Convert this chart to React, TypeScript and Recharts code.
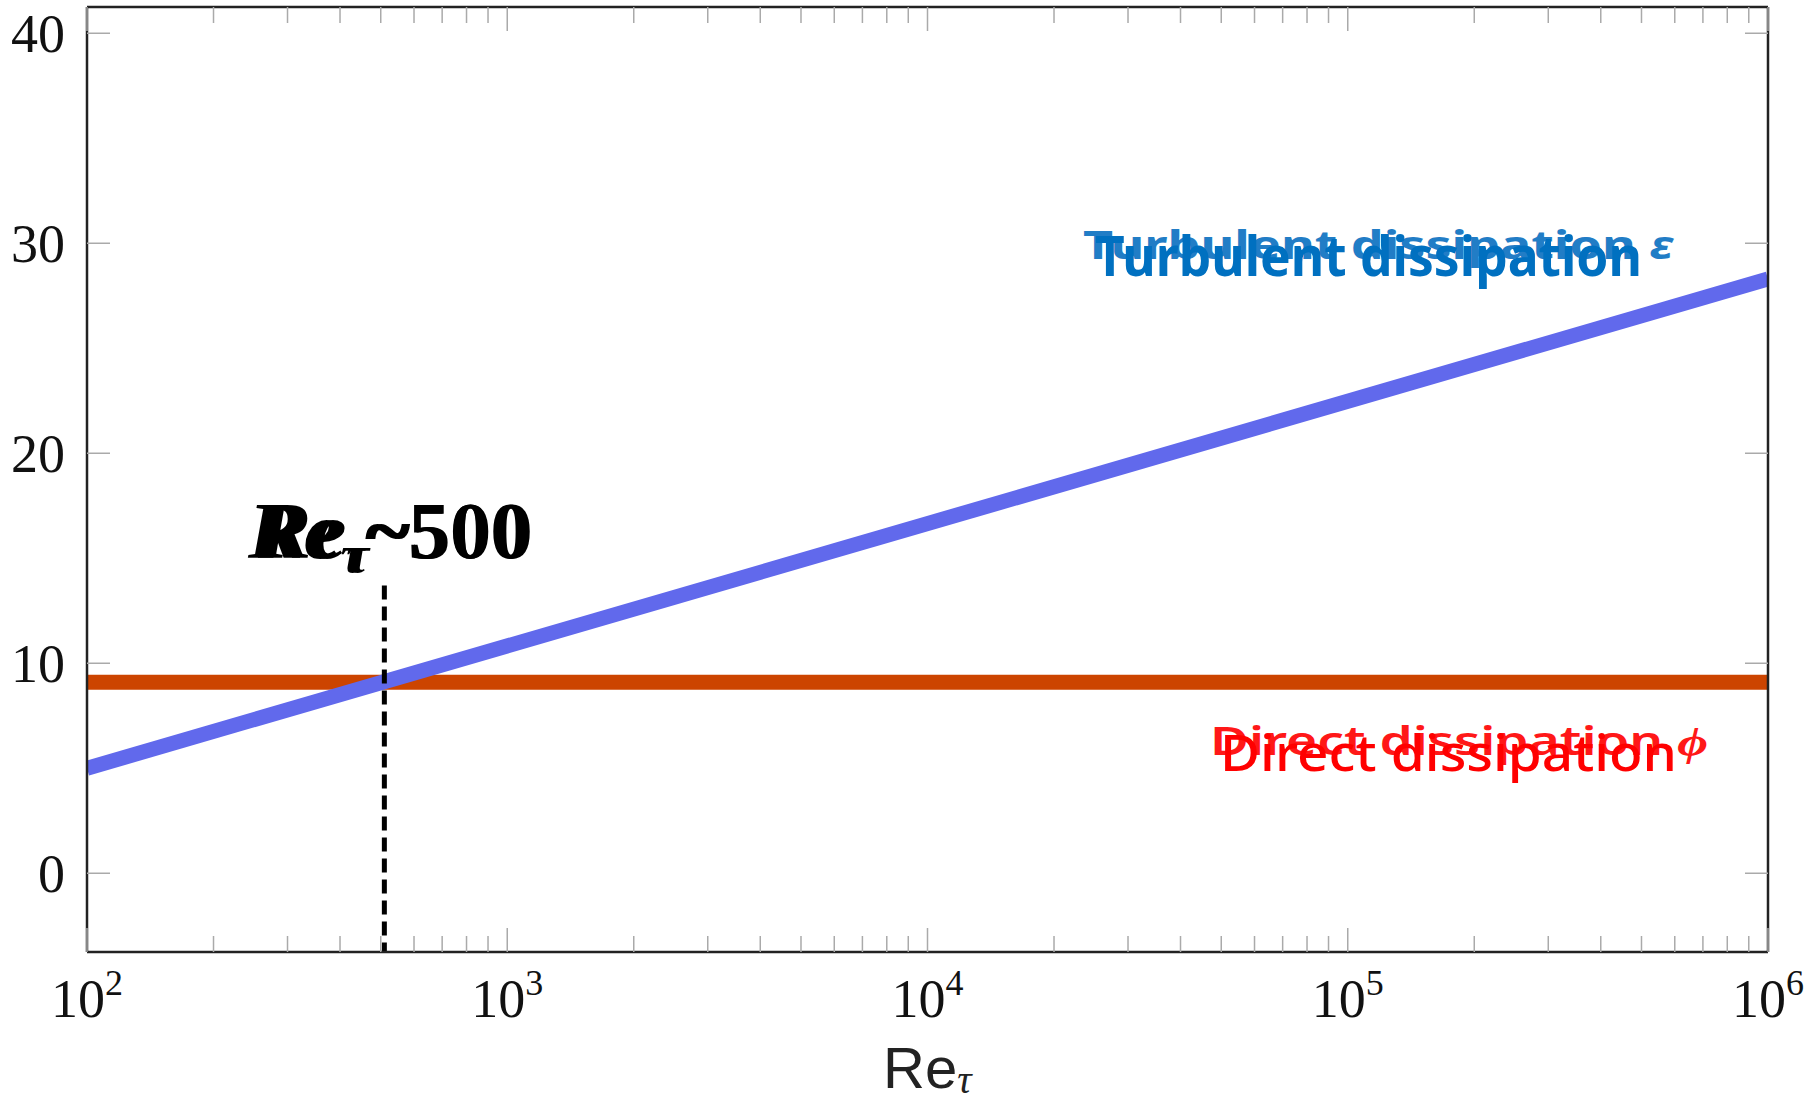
import { LineChart, Line, XAxis, YAxis } from 'recharts';

// values
const turbulent = [
  { re: 100, value: 5.0 },
  { re: 1000000, value: 28.3 },
];
const direct = [
  { re: 100, value: 9.1 },
  { re: 1000000, value: 9.1 },
];
const crossover = [
  { re: 510, value: 13.7 },
  { re: 510, value: -3.75 },
];

const decades = [100, 1000, 10000, 100000, 1000000];
const decadeExponents = ['2', '3', '4', '5', '6'];
const minorSteps = [2, 3, 4, 5, 6, 7, 8, 9];
const yTicks = [0, 10, 20, 30, 40];

const xTicks = [
  ...decades,
  ...decades.slice(0, -1).flatMap(d => minorSteps.map(m => d * m)),
].sort((a, b) => a - b);

const serif = '"Liberation Serif", "DejaVu Serif", serif';
const sans = '"Noto Sans", "Open Sans", sans-serif';

function BottomTick(props: any) {
  const { x, y, payload } = props;
  const i = decades.indexOf(payload.value);
  const major = i >= 0;
  return (
    <g>
      <line x1={x} y1={y} x2={x} y2={y - (major ? 24 : 16)} stroke="#aaa" strokeWidth={1.5} />
      {major && (
        <text x={x} y={y + 65} textAnchor="middle" fontFamily={serif} fontSize={54} fill="#111">
          10<tspan fontSize={36} dy={-22}>{decadeExponents[i]}</tspan>
        </text>
      )}
    </g>
  );
}

function TopTick(props: any) {
  const { x, y, payload } = props;
  const major = decades.includes(payload.value);
  return <line x1={x} y1={y} x2={x} y2={y + (major ? 24 : 16)} stroke="#aaa" strokeWidth={1.5} />;
}

function LeftTick(props: any) {
  const { x, y, payload } = props;
  return (
    <g>
      <line x1={x} y1={y} x2={x + 23} y2={y} stroke="#aaa" strokeWidth={1.5} />
      <text x={x - 22} y={y + 19} textAnchor="end" fontFamily={serif} fontSize={54} fill="#111">
        {payload.value}
      </text>
    </g>
  );
}

function RightTick(props: any) {
  const { x, y } = props;
  return <line x1={x} y1={y} x2={x - 23} y2={y} stroke="#aaa" strokeWidth={1.5} />;
}

function Annotations() {
  return (
    <g>
      <text x={1083} y={259} fontFamily={sans} fontWeight={700} fontSize={40} fill="#0a6fc0"
        textLength={590} lengthAdjust="spacingAndGlyphs" opacity={0.9}>
        Turbulent dissipation <tspan fontStyle="italic">ε</tspan>
      </text>
      <text x={1095} y={276} fontFamily={sans} fontWeight={700} fontSize={56} fill="#0070c0"
        textLength={547} lengthAdjust="spacingAndGlyphs">
        Turbulent dissipation
      </text>

      <text x={1210} y={755} fontFamily={sans} fontWeight={600} fontSize={40} fill="#ff0000"
        textLength={498} lengthAdjust="spacingAndGlyphs" opacity={0.9}>
        Direct dissipation <tspan fontFamily={serif} fontStyle="italic">ϕ</tspan>
      </text>
      <text x={1220} y={771} fontFamily={sans} fontWeight={500} fontSize={50} fill="#ff0000"
        textLength={457} lengthAdjust="spacingAndGlyphs">
        Direct dissipation
      </text>

      <text x={248} y={558} fontFamily={serif} fontWeight={700} fontSize={80} fill="#000"
        textLength={285} lengthAdjust="spacingAndGlyphs">
        <tspan fontStyle="italic">Re</tspan>
        <tspan fontStyle="italic" fontSize={52} dy={14}>τ</tspan>
        <tspan dy={-14}>~500</tspan>
      </text>
      <text x={258} y={558} fontFamily={serif} fontWeight={700} fontSize={80} fill="#000"
        textLength={272} lengthAdjust="spacingAndGlyphs">
        <tspan fontStyle="italic">Re</tspan>
        <tspan fontStyle="italic" fontSize={52} dy={14}>τ</tspan>
        <tspan dy={-14}>~500</tspan>
      </text>

      <text x={883} y={1088} fontFamily='"Liberation Sans", Arial, sans-serif' fontSize={58} fill="#222">
        Re<tspan fontFamily={serif} fontStyle="italic" fontSize={40} dy={5}>τ</tspan>
      </text>
    </g>
  );
}

export default function App() {
  return (
    <div style={{ position: 'fixed', top: 0, left: 0, background: '#fff' }}>
      <LineChart width={1818} height={1101} margin={{ top: 5, right: 48, bottom: 49, left: 7 }}>
        <XAxis
          xAxisId="bottom"
          dataKey="re"
          type="number"
          scale="log"
          domain={[100, 1000000]}
          allowDataOverflow
          ticks={xTicks}
          interval={0}
          tick={BottomTick}
          tickLine={false}
          tickSize={0}
          tickMargin={0}
          height={100}
          axisLine={{ stroke: '#222', strokeWidth: 2.5 }}
        />
        <XAxis
          xAxisId="top"
          orientation="top"
          dataKey="re"
          type="number"
          scale="log"
          domain={[100, 1000000]}
          allowDataOverflow
          ticks={xTicks}
          interval={0}
          tick={TopTick}
          tickLine={false}
          tickSize={0}
          tickMargin={0}
          height={2}
          axisLine={{ stroke: '#222', strokeWidth: 2.5 }}
        />
        <YAxis
          yAxisId="left"
          type="number"
          domain={[-3.75, 41.25]}
          allowDataOverflow
          ticks={yTicks}
          interval={0}
          tick={LeftTick}
          tickLine={false}
          tickSize={0}
          tickMargin={0}
          width={80}
          axisLine={{ stroke: '#222', strokeWidth: 2.5 }}
        />
        <YAxis
          yAxisId="right"
          orientation="right"
          type="number"
          domain={[-3.75, 41.25]}
          allowDataOverflow
          ticks={yTicks}
          interval={0}
          tick={RightTick}
          tickLine={false}
          tickSize={0}
          tickMargin={0}
          width={2}
          axisLine={{ stroke: '#222', strokeWidth: 2.5 }}
        />
        <Line data={direct} xAxisId="bottom" yAxisId="left" dataKey="value" stroke="#cc4400"
          strokeWidth={15} dot={false} isAnimationActive={false} />
        <Line data={turbulent} xAxisId="bottom" yAxisId="left" dataKey="value" stroke="#6169ec"
          strokeWidth={15} dot={false} isAnimationActive={false} />
        <Line data={crossover} xAxisId="bottom" yAxisId="left" dataKey="value" stroke="#000"
          strokeWidth={5} strokeDasharray="14 7" dot={false} isAnimationActive={false} />
        <Annotations />
      </LineChart>
    </div>
  );
}
